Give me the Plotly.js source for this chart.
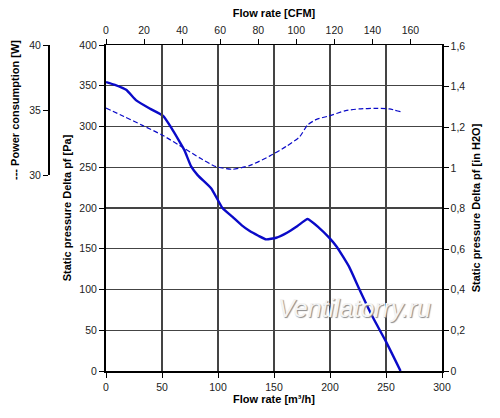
<!DOCTYPE html>
<html>
<head>
<meta charset="utf-8">
<script src="https://cdn.plot.ly/plotly-3.0.1.min.js"></script>
<style>html,body{margin:0;padding:0;background:#fff;}#chart{width:500px;height:418px;}</style>
</head>
<body>
<div id="chart"></div>
<script>
// Static pressure curve (m3/h -> Pa)
var pressureFlow = [0, 8, 18, 27, 39, 51, 58.5, 65, 70, 76, 82, 94, 104, 113, 121, 128, 136, 143, 152, 162, 171, 180, 190, 199, 206, 217, 226, 238, 250, 263];
var pressurePa   = [354.5, 351, 345, 332, 322, 313, 298, 283, 271, 251, 240, 224, 200, 189, 179, 172, 166, 161.5, 163.5, 170, 178, 186.5, 176, 164, 152.5, 128, 101, 66.5, 36, 0];

// Power consumption curve (m3/h -> W)
var powerFlow  = [0, 16, 33, 50, 70, 84, 98, 113, 128, 146, 161, 173, 180, 188, 199, 214, 226, 241, 253, 263];
var powerWatts = [35.15, 34.5, 33.8, 33.08, 32.05, 31.3, 30.65, 30.44, 30.72, 31.45, 32.2, 32.95, 33.85, 34.28, 34.54, 34.95, 35.08, 35.13, 35.08, 34.87];

// Axis ticks
var flowTicks   = [0, 50, 100, 150, 200, 250, 300];
var cfmTicks    = [0, 20, 40, 60, 80, 100, 120, 140, 160];
var paTicks     = [0, 50, 100, 150, 200, 250, 300, 350, 400];
var inH2OTicks  = [0, 0.2, 0.4, 0.6, 0.8, 1, 1.2, 1.4, 1.6];
var powerTicks  = [30, 35, 40];

var M3H_PER_CFM = 1.699;
var PA_PER_INH2O = 249.089;
var FLOW_MAX = 300, PA_MAX = 400;

var blue = '#0a0ac8';
var tickFont = {family: 'Liberation Sans, Arial, sans-serif', size: 10.5, color: '#222'};
var titleFont = {family: 'Liberation Sans, Arial, sans-serif', size: 11, color: '#000', weight: 'bold'};

var traces = [
  {x: pressureFlow, y: pressurePa, xaxis: 'x', yaxis: 'y', mode: 'lines',
   line: {color: blue, width: 2.4, shape: 'spline', smoothing: 0.4}, hoverinfo: 'skip'},
  {x: powerFlow, y: powerWatts, xaxis: 'x', yaxis: 'y3', mode: 'lines',
   line: {color: blue, width: 1.2, dash: '5px,2.5px', shape: 'spline', smoothing: 0.6}, hoverinfo: 'skip'},
  // invisible companions so secondary scales are drawn
  {x: pressureFlow.map(function(v){return v / M3H_PER_CFM;}), y: pressurePa, xaxis: 'x2', yaxis: 'y',
   mode: 'lines', opacity: 0, hoverinfo: 'skip'},
  {x: pressureFlow, y: pressurePa.map(function(v){return v / PA_PER_INH2O;}), xaxis: 'x', yaxis: 'y2',
   mode: 'lines', opacity: 0, hoverinfo: 'skip'}
];

var axisCommon = {showline: true, linecolor: '#000', ticks: 'outside', ticklen: 5, tickcolor: '#000',
  tickfont: tickFont, zeroline: false, fixedrange: true};

var layout = {
  width: 500, height: 418,
  margin: {l: 48, r: 58, t: 45, b: 47},
  paper_bgcolor: '#fff', plot_bgcolor: 'rgba(0,0,0,0)',
  showlegend: false,
  separators: ', ',
  xaxis: Object.assign({}, axisCommon, {
    domain: [58 / 394, 1], range: [0, FLOW_MAX], tickvals: flowTicks, linewidth: 2,
    showgrid: true, gridcolor: '#444', gridwidth: 1.3, anchor: 'y',
    title: {text: 'Flow rate [m³/h]', font: titleFont, standoff: 4}
  }),
  xaxis2: Object.assign({}, axisCommon, {
    overlaying: 'x', side: 'top', anchor: 'y', range: [0, FLOW_MAX / M3H_PER_CFM],
    tickvals: cfmTicks, linewidth: 1.5, showgrid: false,
    title: {text: 'Flow rate [CFM]', font: titleFont, standoff: 4}
  }),
  yaxis: Object.assign({}, axisCommon, {
    domain: [0, 1], range: [0, PA_MAX], tickvals: paTicks, linewidth: 2, anchor: 'x',
    showgrid: true, gridcolor: '#444', gridwidth: 1.3,
    title: {text: 'Static pressure Delta pf [Pa]', font: titleFont, standoff: 6}
  }),
  yaxis2: Object.assign({}, axisCommon, {
    overlaying: 'y', side: 'right', anchor: 'x', range: [0, PA_MAX / PA_PER_INH2O],
    tickvals: inH2OTicks, linewidth: 1.5, showgrid: false,
    title: {text: 'Static pressure Delta pf [in H2O]', font: titleFont, standoff: 8}
  }),
  yaxis3: Object.assign({}, axisCommon, {
    domain: [1 - 130 / 326, 1], range: [30, 40], tickvals: powerTicks, linewidth: 1.5,
    anchor: 'free', position: 0, side: 'left', showgrid: false,
    title: {text: '--- Power consumption [W]', font: titleFont, standoff: 6}
  }),
  annotations: [{
    x: 222, y: 77, xref: 'x', yref: 'y', showarrow: false, text: 'Ventilatorry.ru',
    font: {family: 'Liberation Sans, Arial, sans-serif', size: 25, color: '#f4f4f4', style: 'italic',
      shadow: '1px 1px 1px #8a8a8a'}
  }]
};

Plotly.newPlot('chart', traces, layout, {staticPlot: true, displayModeBar: false});
</script>
</body>
</html>
